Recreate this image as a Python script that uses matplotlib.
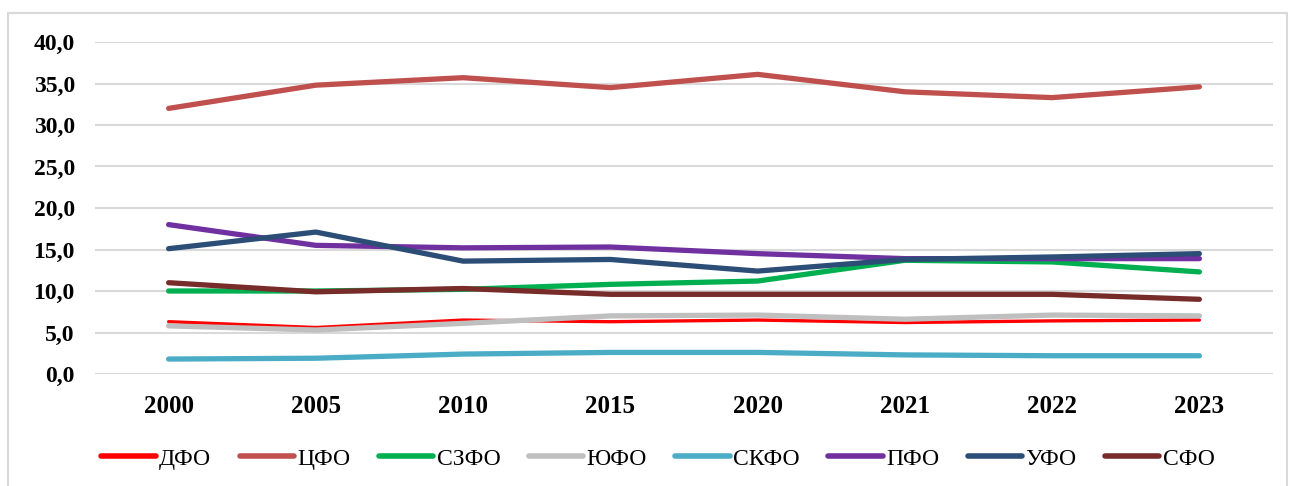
import matplotlib
matplotlib.use("Agg")
import matplotlib.pyplot as plt
from matplotlib.patches import Rectangle

years = ["2000", "2005", "2010", "2015", "2020", "2021", "2022", "2023"]
dfo = [6.3, 5.6, 6.5, 6.3, 6.5, 6.2, 6.4, 6.5]
cfo = [32.0, 34.8, 35.7, 34.5, 36.1, 34.0, 33.3, 34.6]
szfo = [10.0, 10.0, 10.2, 10.8, 11.2, 13.7, 13.5, 12.3]
yufo = [5.8, 5.3, 6.1, 7.0, 7.1, 6.6, 7.1, 7.0]
skfo = [1.8, 1.9, 2.4, 2.6, 2.6, 2.3, 2.2, 2.2]
pfo = [18.0, 15.5, 15.2, 15.3, 14.5, 13.9, 13.9, 13.9]
ufo = [15.1, 17.1, 13.6, 13.8, 12.4, 13.8, 14.1, 14.5]
sfo = [11.0, 9.9, 10.3, 9.6, 9.6, 9.6, 9.6, 9.0]

labels = ["ДФО", "ЦФО", "СЗФО", "ЮФО", "СКФО", "ПФО", "УФО", "СФО"]
series = [dfo, cfo, szfo, yufo, skfo, pfo, ufo, sfo]
colors = ["#FF0000", "#C0504D", "#00B050", "#BFBFBF", "#4BACC6", "#7030A0", "#2C4D75", "#772C2A"]
widths = [2.4, 3.8, 3.8, 3.8, 3.8, 3.8, 3.8, 3.8]

plt.rcParams['font.family'] = ['Liberation Serif', 'DejaVu Serif']

fig = plt.figure(figsize=(12.9, 4.86), dpi=100)
fig.patches.append(Rectangle((8/1290, -2/486), 1279/1290, 475/486, transform=fig.transFigure,
                             fill=False, edgecolor="#D9D9D9", linewidth=1.5))
ax = fig.add_axes([95/1290, 1-374/486, (1273-95)/1290, (374-42)/486])

x = list(range(len(years)))
for s, lab, c, w in zip(series, labels, colors, widths):
    ax.plot(x, s, color=c, lw=w, label=lab, solid_capstyle='round', solid_joinstyle='miter')

ax.set_xlim(-0.5, len(years) - 0.5)
ax.set_ylim(0, 40)
ax.set_yticks(range(0, 41, 5))
ax.set_yticklabels([f"{v},0" for v in range(0, 41, 5)], fontsize=17, fontweight='bold')
ax.set_xticks(x)
ax.set_xticklabels(years, fontsize=18, fontweight='bold')
ax.tick_params(length=0)
ax.tick_params(axis='y', pad=14.5)
ax.tick_params(axis='x', pad=15)
ax.grid(axis='y', color="#D9D9D9", lw=1.5)
ax.set_axisbelow(True)
for sp in ax.spines.values():
    sp.set_visible(False)

leg = fig.legend(loc='center', bbox_to_anchor=(658/1290, 1-459/486), ncol=8, frameon=False,
                 prop={'size': 17}, handlelength=2.3, handletextpad=0.15, columnspacing=1.2)
for h in leg.get_lines():
    h.set_linewidth(4.0)
    h.set_solid_capstyle('round')

fig.savefig("out.png", dpi=100)
